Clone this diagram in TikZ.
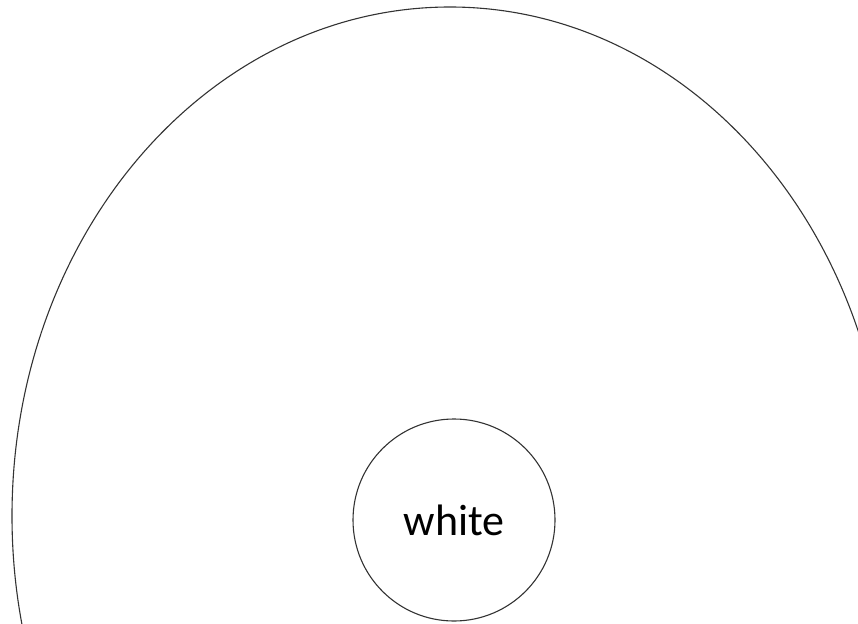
\documentclass[tikz,border=0pt]{standalone}
\usepackage{fontspec}
\setmainfont{Carlito}
\begin{document}
\begin{tikzpicture}[x=1pt,y=-1pt,
  outline/.style={draw=black!80,line width=1.1pt},
  label/.style={font=\fontsize{44}{52}\selectfont,text=black}]
\useasboundingbox (0,0) rectangle (858,623);
\clip (0,0) rectangle (858,623);
\draw[outline] (450,516) ellipse [x radius=438, y radius=509];
\node[outline,circle,minimum size=202pt,inner sep=0pt,label] (white) at (454,520) {white};
\end{tikzpicture}
\end{document}
